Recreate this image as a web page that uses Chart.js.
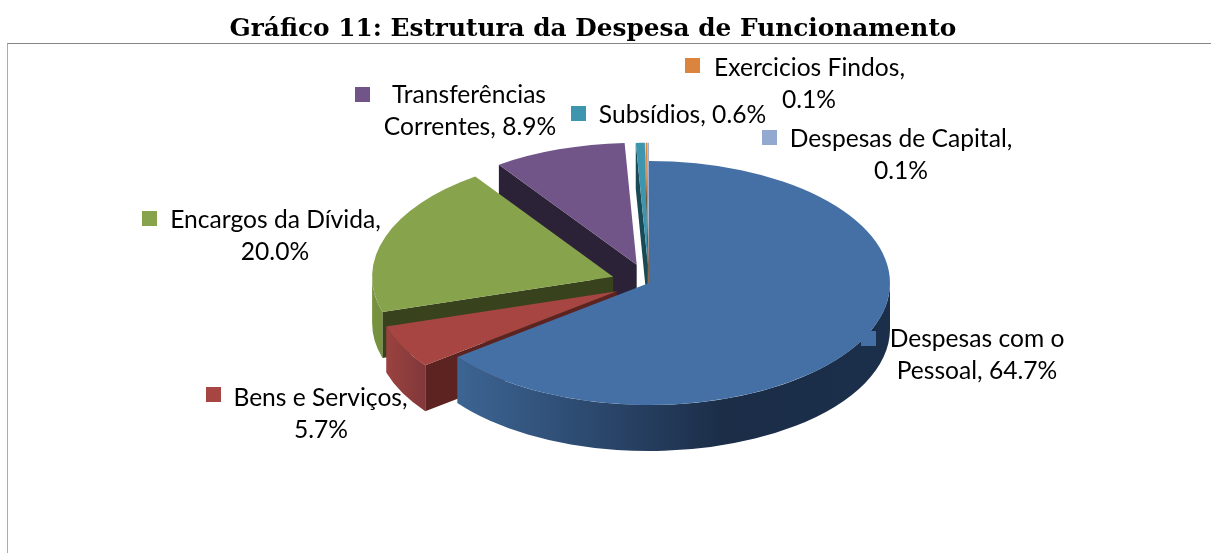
<!DOCTYPE html>
<html lang="pt">
<head>
<meta charset="utf-8">
<title>Gráfico 11</title>
<script src="https://cdn.jsdelivr.net/npm/chart.js@4"></script>
<style>
html,body{margin:0;padding:0;background:#fff;width:1211px;height:553px;overflow:hidden}
#frame{position:absolute;left:7px;top:43px;width:1204px;height:510px;border-top:1px solid #868686;border-left:1px solid #ababab;box-sizing:border-box}
#wrap{position:absolute;left:0;top:0;width:1211px;height:553px}
canvas{display:block}
</style>
</head>
<body>
<div id="frame"></div>
<div id="wrap"><canvas id="c" width="1211" height="553"></canvas></div>
<script>
const titleText = "Gráfico 11: Estrutura da Despesa de Funcionamento";
const categories = ["Despesas com o Pessoal","Bens e Serviços","Encargos da Dívida","Transferências Correntes","Subsídios","Exercicios Findos","Despesas de Capital"];
const values = [64.7,5.7,20.0,8.9,0.6,0.1,0.1];
const topColors = ["#4570A6","#A64542","#87A34B","#715589","#3E95AE","#DB843D","#94A9CF"];
const faceColors = ["#1b2d47","#5c2321","#38421c","#2b2238","#1b4a57","#7a4516","#4a5a78"];
const wallStops = [
  [[0,"#3c6593"],[0.35,"#2a4569"],[0.62,"#1b2d47"],[1,"#1b2f4b"]],
  [[0,"#9a4240"],[1,"#82383a"]],
  [[0,"#76923f"],[1,"#76923f"]],
  [[0,"#3a2c4a"],[1,"#3a2c4a"]],
  [[0,"#1b4a57"],[1,"#1b4a57"]],
  [[0,"#7a4516"],[1,"#7a4516"]],
  [[0,"#4a5a78"],[1,"#4a5a78"]]
];

// Layout of the drawing, separate from the data
const RADIUS = 241, SQUASH = 122/241, DEPTH = 46, TITLE_SHIFT = -56;
const explode = [0,36,38,38,36,36,36];
const labelFont = '24.6px Lato, "Open Sans", sans-serif';
const labelLayout = [
  {first:"Despesas com o", cx:977, y1:339, y2:371, sq:[861,331]},
  {first:"Bens e Serviços,", cx:321, y1:398, y2:430, sq:[206,387]},
  {first:"Encargos da Dívida,", cx:275, y1:220, y2:252, sq:[142,211]},
  {first:"Transferências", cx:470, y1:95, y2:127, sq:[355,87]},
  {first:"Subsídios, 0.6%", cx:682, y1:115, y2:null, sq:[571,106]},
  {first:"Exercicios Findos,", cx:809, y1:68, y2:100, sq:[685,58]},
  {first:"Despesas de Capital,", cx:901, y1:139, y2:171, sq:[762,130]}
];
const lineX = [[891,1063],[235,406],[170,381],[389,549],[599,766],[715,904],[790,1012]];

const pie3d = {
  id:"pie3d",
  afterLayout(chart){
    chart.titleBlock.left += TITLE_SHIFT;
    chart.titleBlock.right += TITLE_SHIFT;
  },
  afterDatasetsUpdate(chart){
    chart.getDatasetMeta(0).data.forEach((a,i)=>{
      const mid = (a.startAngle+a.endAngle)/2;
      a.x += Math.cos(mid)*explode[i];
      a.y += Math.sin(mid)*explode[i];
    });
  },
  beforeDatasetsDraw(chart){
    const ctx = chart.ctx;
    const arcs = chart.getDatasetMeta(0).data;
    const cy = arcs[0].y;
    ctx.save();
    ctx.translate(0,cy); ctx.scale(1,SQUASH); ctx.translate(0,-cy);
    const d = DEPTH/SQUASH;
    for(let i=arcs.length-1;i>=0;i--){
      const a = arcs[i];
      const x = a.x, y = a.y, R = a.outerRadius;
      const face = ang=>{
        ctx.beginPath();
        ctx.moveTo(x,y);
        ctx.lineTo(x+Math.cos(ang)*R,y+Math.sin(ang)*R);
        ctx.lineTo(x+Math.cos(ang)*R,y+Math.sin(ang)*R+d);
        ctx.lineTo(x,y+d);
        ctx.closePath();
        ctx.fillStyle = faceColors[i];
        ctx.fill();
      };
      if(Math.cos(a.startAngle)<-1e-6) face(a.startAngle);
      if(Math.cos(a.endAngle)>1e-6) face(a.endAngle);
      const a0 = Math.max(a.startAngle,0), a1 = Math.min(a.endAngle,Math.PI);
      if(a1>a0){
        const x0 = x+Math.cos(a1)*R, x1 = a0<=0 ? x+R : x+Math.cos(a0)*R;
        const g = ctx.createLinearGradient(x0,0,x1,0);
        wallStops[i].forEach(s=>g.addColorStop(s[0],s[1]));
        ctx.beginPath();
        ctx.arc(x,y,R,a0,a1);
        ctx.arc(x,y+d,R,a1,a0,true);
        ctx.closePath();
        ctx.fillStyle = g;
        ctx.fill();
      }
    }
  },
  afterDatasetsDraw(chart){
    const ctx = chart.ctx;
    ctx.restore();
    ctx.save();
    ctx.font = labelFont;
    ctx.textBaseline = "middle";
    ctx.textAlign = "center";
    categories.forEach((cat,i)=>{
      const L = labelLayout[i];
      const full = cat+", "+values[i].toFixed(1)+"%";
      ctx.fillStyle = topColors[i];
      ctx.fillRect(L.sq[0],L.sq[1],15,15);
      ctx.fillStyle = "#000";
      const cx1 = (lineX[i][0]+lineX[i][1])/2;
      ctx.fillText(L.first,cx1,L.y1);
      if(L.y2!==null) ctx.fillText(full.slice(L.first.length).trim(),L.cx,L.y2);
    });
    ctx.restore();
  }
};

new Chart(document.getElementById("c"),{
  type:"pie",
  data:{labels:categories,datasets:[{
    data:values,
    backgroundColor:topColors,
    borderWidth:0,
    clip:false
  }]},
  options:{
    responsive:false,
    animation:false,
    radius:RADIUS,
    layout:{padding:{left:87,bottom:29.4}},
    plugins:{
      legend:{display:false},
      tooltip:{enabled:false},
      title:{display:true,text:titleText,color:"#000",
        font:{family:'"DejaVu Serif"',size:24.8,weight:"bold",lineHeight:1.0645},
        padding:{top:16,bottom:0}}
    }
  },
  plugins:[pie3d]
});
</script>
</body>
</html>
